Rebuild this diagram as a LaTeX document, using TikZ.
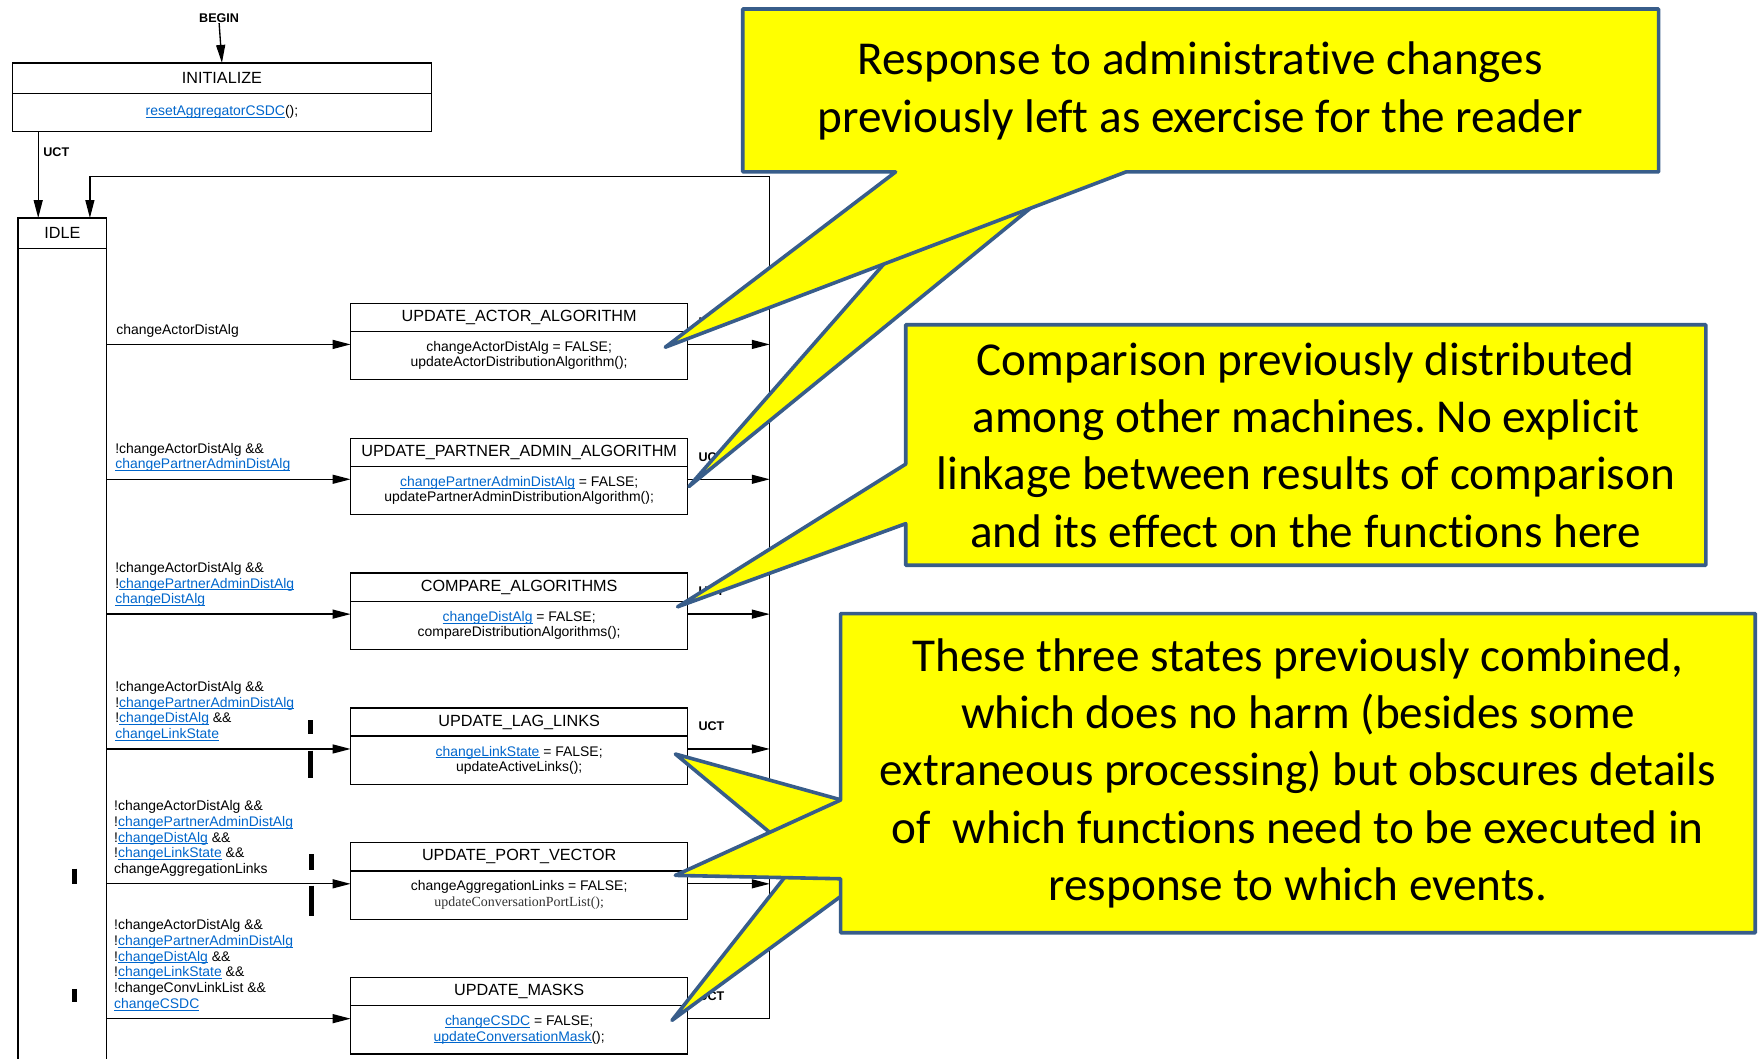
\documentclass[tikz,border=0pt]{standalone}
\usepackage{fontspec}
\setmainfont{Liberation Sans}
\newfontfamily\calfont[Ligatures=NoCommon]{Carlito}
\newfontfamily\serfont{Liberation Serif}
\usepackage{tikz}
\usepackage{xcolor}
\usetikzlibrary{positioning, arrows.meta}
\definecolor{lnkblue}{RGB}{0, 102, 204}
\definecolor{cobord}{RGB}{56, 93, 138}
\definecolor{coyellow}{RGB}{255, 255, 0}
\newcommand{\lnk}[1]{{\color{lnkblue}\setbox0\hbox{#1}\rlap{\rule[-0.9pt]{\wd0}{0.35pt}}\box0}}
\frenchspacing
\tikzset{
    sthead/.style={draw, minimum width=150pt, minimum height=12.5pt, inner sep=0pt, outer sep=0pt, font=\fontsize{7.2}{8}\selectfont},
    stbody/.style={draw, minimum width=150pt, minimum height=21.5pt, inner sep=0pt, outer sep=0pt, align=center, font=\fontsize{6.2}{6.8}\selectfont},
    guard/.style={align=left, inner sep=0pt, font=\fontsize{6.2}{7}\selectfont},
    uct/.style={anchor=west, inner sep=0pt, font=\bfseries\fontsize{5.6}{6}\selectfont},
    trans/.style={-{Triangle[length=8pt, width=4pt]}},
    chbar/.style={line width=2.3pt},
    callout/.style={fill=coyellow, draw=cobord, line width=1.6pt, line join=round},
    note/.style={align=center, font=\calfont\fontsize{21}{25.5}\selectfont}
}

\begin{document}
\begin{tikzpicture}[x=0.5pt, y=-0.5pt, line width=0.6pt]
\useasboundingbox (0,0) rectangle (1568,942);
% start and idle
\node[uct, anchor=center] (begin) at (195,16) {BEGIN};
\node[sthead, minimum width=186.5pt, minimum height=13.5pt] (init) at (197.5,69.5) {INITIALIZE};
\node[stbody, minimum width=186.5pt, minimum height=17pt, below=0pt of init] (init-b) {\lnk{resetAggregatorCSDC}();};
\node[sthead, minimum width=39.5pt, minimum height=13.5pt] (idle) at (55.5,207.5) {IDLE};
\draw (idle.south west) -- ++(0,740) (idle.south east) -- ++(0,740);
\coordinate (rtop) at (685,157);
\coordinate (idlein) at ([xshift=-7.5pt]idle.north east);
\coordinate (uctsrc) at ([xshift=11.5pt]init-b.south west);
\draw[trans] (begin.south) -- (init.north);
\draw[trans] (uctsrc) -- (uctsrc |- idle.north) node[uct, pos=0.24, xshift=2pt] (init-uct) {UCT};

% states
\node[sthead] (ua) at (462,282.5) {UPDATE\_ACTOR\_ALGORITHM};
\node[stbody, below=0pt of ua] (ua-b) {changeActorDistAlg = FALSE;\\updateActorDistributionAlgorithm();};
\node[sthead, below=26pt of ua-b] (up) {UPDATE\_PARTNER\_ADMIN\_ALGORITHM};
\node[stbody, below=0pt of up] (up-b) {\lnk{changePartnerAdminDistAlg} = FALSE;\\updatePartnerAdminDistributionAlgorithm();};
\node[sthead, below=26pt of up-b] (ca) {COMPARE\_ALGORITHMS};
\node[stbody, below=0pt of ca] (ca-b) {\lnk{changeDistAlg} = FALSE;\\compareDistributionAlgorithms();};
\node[sthead, below=26pt of ca-b] (ul) {UPDATE\_LAG\_LINKS};
\node[stbody, below=0pt of ul] (ul-b) {\lnk{changeLinkState} = FALSE;\\updateActiveLinks();};
\node[sthead, below=26pt of ul-b] (uv) {UPDATE\_PORT\_VECTOR};
\node[stbody, below=0pt of uv] (uv-b) {changeAggregationLinks = FALSE;\\{\serfont\color{black!80}updateConversationPortList();}};
\node[sthead, below=26pt of uv-b] (um) {UPDATE\_MASKS};
\node[stbody, below=0pt of um] (um-b) {\lnk{changeCSDC} = FALSE;\\\lnk{updateConversationMask}();};

% transitions
\foreach \s in {ua,up,ca,ul,uv,um} {
    \coordinate (\s-in) at ([yshift=5pt]\s-b.west);
    \coordinate (\s-src) at (idle.east |- \s-in);
    \draw[trans] (\s-src) -- (\s-in);
}
\foreach \s in {ua,up,ca,ul,uv}
    \draw[trans] (\s-in -| \s-b.east) -- (\s-in -| rtop);
\draw[trans] (um-in -| um-b.east) -- (um-in -| rtop) -- (rtop) -- (rtop -| idlein) -- (idlein);
\foreach \s in {ua,up,ca,ul,um}
    \node[uct] (\s-uct) at ([xshift=4.5pt,yshift=-2pt]\s.east) {UCT};

\node[guard, above right=3pt and 4pt of ua-src] (ua-g) {changeActorDistAlg};
\node[guard, above right=3pt and 3.5pt of up-src] (up-g) {!changeActorDistAlg \&\&\\\lnk{changePartnerAdminDistAlg}};
\node[guard, above right=3pt and 3.5pt of ca-src] (ca-g) {!changeActorDistAlg \&\&\\!\lnk{changePartnerAdminDistAlg}\\\lnk{changeDistAlg}};
\node[guard, above right=3pt and 3.5pt of ul-src] (ul-g) {!changeActorDistAlg \&\&\\!\lnk{changePartnerAdminDistAlg}\\!\lnk{changeDistAlg} \&\&\\\lnk{changeLinkState}};
\node[guard, above right=3pt and 3pt of uv-src] (uv-g) {!changeActorDistAlg \&\&\\!\lnk{changePartnerAdminDistAlg}\\!\lnk{changeDistAlg} \&\&\\!\lnk{changeLinkState} \&\&\\changeAggregationLinks};
\node[guard, above right=3pt and 3pt of um-src] (um-g) {!changeActorDistAlg \&\&\\!\lnk{changePartnerAdminDistAlg}\\!\lnk{changeDistAlg} \&\&\\!\lnk{changeLinkState} \&\&\\!changeConvLinkList \&\&\\\lnk{changeCSDC}};

% change bars
\draw[chbar] (276,641) -- (276,653) (276,668) -- (276,692) (277,760) -- (277,774) (277,788) -- (277,815)
    (66,773) -- (66,787) (66,880) -- (66,892);

% callouts
\draw[callout] (613,433) -- (804,215) -- (948,160) -- cycle;
\draw[callout] (661,8) -- (1476,8) -- (1476,153) -- (1002,153) -- (592,309) -- (797,153) -- (661,153) -- cycle;
\node[note] (n1) at (1068,81) {Response to administrative changes\\previously left as exercise for the reader};

\draw[callout] (806,289) -- (1518,289) -- (1518,503) -- (806,503) -- (806,466) -- (603,540) -- (806,413) -- cycle;
\node[note] (n2) at (1162,396) {Comparison previously distributed\\among other machines. No explicit\\linkage between results of comparison\\and its effect on the functions here};

\draw[callout] (601,671) -- (760,715) -- (760,740) -- (725,774) -- cycle;
\draw[callout] (598,908) -- (713,762) -- (760,762) -- (760,789) -- cycle;
\draw[callout] (748,546) -- (1562,546) -- (1562,830) -- (748,830) -- (748,782) -- (601,779) -- (748,712) -- cycle;
\node[note] (n3) at (1155,688) {These three states previously combined,\\which does no harm (besides some\\extraneous processing) but obscures details\\of~ which functions need to be executed in\\response to which events.};
\end{tikzpicture}
\end{document}
